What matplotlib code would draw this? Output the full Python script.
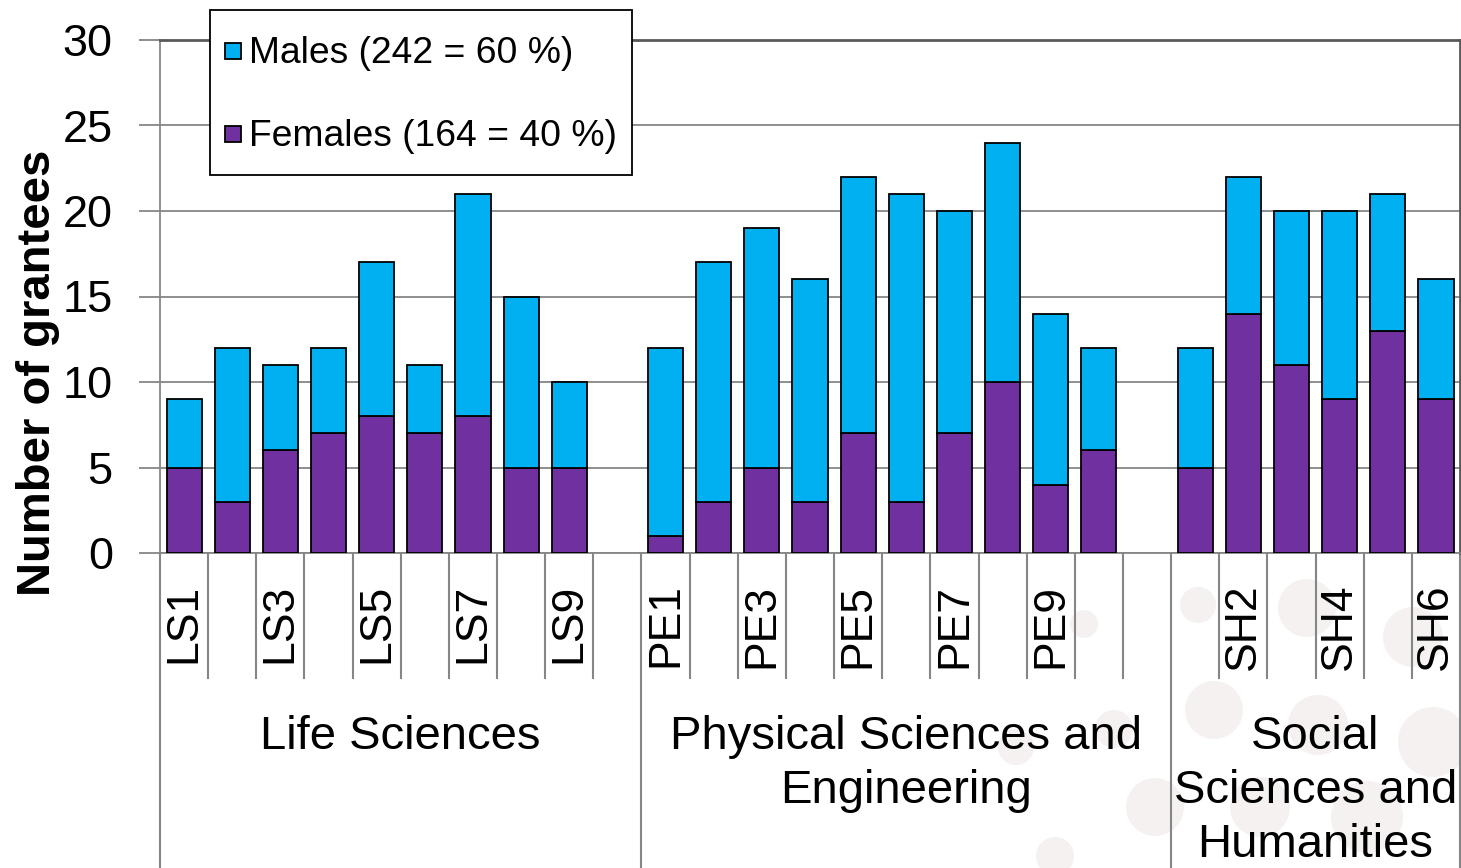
import matplotlib.pyplot as plt
from matplotlib.lines import Line2D
from matplotlib.markers import MarkerStyle
from matplotlib.patches import Circle
from matplotlib.transforms import Affine2D

plt.rcParams['font.family'] = ['Liberation Sans', 'DejaVu Sans']

# panels per domain (codes) and grantee counts
ls_codes = ['LS1', 'LS2', 'LS3', 'LS4', 'LS5', 'LS6', 'LS7', 'LS8', 'LS9']
pe_codes = ['PE1', 'PE2', 'PE3', 'PE4', 'PE5', 'PE6', 'PE7', 'PE8', 'PE9', 'PE10']
sh_codes = ['SH1', 'SH2', 'SH3', 'SH4', 'SH5', 'SH6']

ls_females = [5, 3, 6, 7, 8, 7, 8, 5, 5]
ls_males = [4, 9, 5, 5, 9, 4, 13, 10, 5]
pe_females = [1, 3, 5, 3, 7, 3, 7, 10, 4, 6]
pe_males = [11, 14, 14, 13, 15, 18, 13, 14, 10, 6]
sh_females = [5, 14, 11, 9, 13, 9]
sh_males = [7, 8, 9, 11, 8, 7]

groups = ['Life Sciences', 'Physical Sciences and\nEngineering',
          'Social\nSciences and\nHumanities']
legend_labels = ['Males (242 = 60 %)', 'Females (164 = 40 %)']

male_col = '#00B0F0'
female_col = '#7030A0'
grid_col = '#868686'

# one empty slot after the LS and PE groups, like the original sheet
codes = ls_codes + [''] + pe_codes + [''] + sh_codes
females = ls_females + [None] + pe_females + [None] + sh_females
males = ls_males + [None] + pe_males + [None] + sh_males
group_sizes = [len(ls_codes) + 1, len(pe_codes) + 1, len(sh_codes)]

W, H = 1461, 868
fig = plt.figure(figsize=(W / 100, H / 100), dpi=100)

# faint background decoration
bg = fig.add_axes([0, 0, 1, 1], zorder=-5)
bg.set_xlim(0, W)
bg.set_ylim(H, 0)
bg.axis('off')
for cx, cy, r in [(1198, 605, 18), (1307, 608, 29), (1413, 637, 30), (1214, 710, 29),
                  (1318, 725, 30), (1433, 742, 35), (1155, 807, 29), (1260, 807, 30),
                  (1367, 817, 36), (1084, 624, 14), (1114, 729, 19), (1055, 856, 19),
                  (1016, 747, 18), (961, 885, 15)]:
    bg.add_patch(Circle((cx, cy), r, color='#F6F1F1', lw=0))

ax = fig.add_axes([160 / W, 1 - 553 / H, 1300 / W, 513 / H])
ax.set_facecolor('none')

xs = [i for i, c in enumerate(codes) if c]
f_vals = [females[i] for i in xs]
m_vals = [males[i] for i in xs]
ax.bar(xs, f_vals, width=0.73, color=female_col, edgecolor='black', linewidth=1.3, zorder=3)
ax.bar(xs, m_vals, width=0.73, bottom=f_vals, color=male_col, edgecolor='black',
       linewidth=1.3, zorder=3)

ax.set_xlim(-0.5, len(codes) - 0.5)
ax.set_ylim(0, 30)
ax.set_yticks(range(0, 31, 5))
ax.yaxis.grid(True, color=grid_col, linewidth=1.3)
ax.set_axisbelow(True)
ax.tick_params(axis='y', labelsize=32.5, length=15, width=1.3, color=grid_col, pad=19)

ax.set_xticks(range(0, len(codes), 2))
ax.set_xticklabels(codes[::2], rotation=90, fontsize=32)
ax.tick_params(axis='x', length=0, pad=22)

for s in ['left', 'bottom']:
    ax.spines[s].set_color(grid_col)
    ax.spines[s].set_linewidth(1.3)
for s in ['top', 'right']:
    ax.spines[s].set_color('#595959')
    ax.spines[s].set_linewidth(2)

ax.set_ylabel('Number of grantees', fontsize=34, fontweight='bold')
ax.yaxis.set_label_coords(-0.077, 0.351)

# category separators and group boundaries below the axis
tr = ax.get_xaxis_transform()
short = (553 - 678) / 513
long_ = (553 - H) / 513
bounds = [-0.5]
for n in group_sizes:
    bounds.append(bounds[-1] + n)
for i in range(len(codes) + 1):
    b = i - 0.5
    y1 = long_ if b in bounds else short
    ax.plot([b, b], [0, y1], transform=tr, color=grid_col, lw=1.5, clip_on=False)

for g, name in enumerate(groups):
    mid = (bounds[g] + bounds[g + 1]) / 2
    ax.text(mid, (553 - 715) / 513, name, transform=tr, ha='center', va='top',
            fontsize=34, linespacing=1.3)

# square legend keys, nudged down to sit level with the text
sq = MarkerStyle('s', transform=Affine2D().translate(0, -0.45))
handles = [Line2D([], [], ls='none', marker=sq, markersize=11.5, markerfacecolor=male_col,
                  markeredgecolor='black', markeredgewidth=1.3),
           Line2D([], [], ls='none', marker=sq, markersize=11.5, markerfacecolor=female_col,
                  markeredgecolor='black', markeredgewidth=1.3)]
leg = ax.legend(handles, legend_labels, loc='upper left',
                bbox_to_anchor=(210 / W, 1 - 10 / H), bbox_transform=fig.transFigure,
                fontsize=26.8, fancybox=False, framealpha=1, edgecolor='black',
                handlelength=0.45, handleheight=1.8, handletextpad=0.2,
                labelspacing=0.8, borderpad=0.4, borderaxespad=0)
leg.get_frame().set_linewidth(1.3)
leg.set_zorder(10)

fig.savefig('out.png', dpi=100)
